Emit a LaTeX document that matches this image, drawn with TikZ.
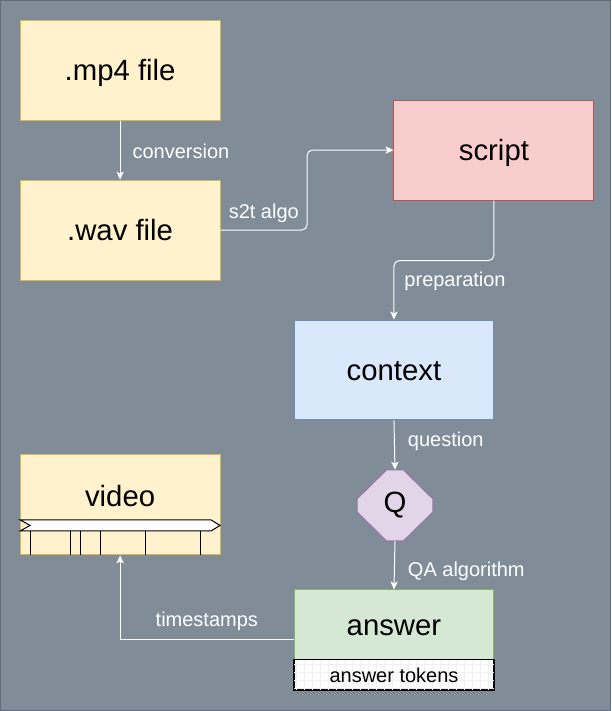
\documentclass[tikz,border=0pt]{standalone}
\usepackage{fontspec}
\setmainfont{Liberation Sans}
\usetikzlibrary{arrows.meta,calc}
\definecolor{bg}{HTML}{808D99}
\definecolor{bgline}{HTML}{5F6D7B}
\definecolor{yfill}{HTML}{FFF2CC}\definecolor{ystroke}{HTML}{D6B656}
\definecolor{rfill}{HTML}{F8CECC}\definecolor{rstroke}{HTML}{B85450}
\definecolor{bfill}{HTML}{DAE8FC}\definecolor{bstroke}{HTML}{6C8EBF}
\definecolor{pfill}{HTML}{E1D5E7}\definecolor{pstroke}{HTML}{9673A6}
\definecolor{gfill}{HTML}{D5E8D4}\definecolor{gstroke}{HTML}{82B366}
\definecolor{gridc}{HTML}{F0F0F0}
\begin{document}
\begin{tikzpicture}[x=0.75pt,y=-0.75pt,
  box/.style={draw, line width=0.75pt, minimum width=150pt, minimum height=75pt, inner sep=0pt,
    font=\fontsize{22}{26}\selectfont, text=black, text height=16pt, text depth=0pt},
  yel/.style={box, fill=yfill, draw=ystroke},
  redbox/.style={box, fill=rfill, draw=rstroke},
  bluebox/.style={box, fill=bfill, draw=bstroke},
  greenbox/.style={box, fill=gfill, draw=gstroke},
  lbl/.style={text=white, font=\fontsize{15}{18}\selectfont, inner sep=0pt},
  conn/.style={draw=white, line width=0.75pt, -{Stealth[length=6pt,width=5.5pt,inset=1.5pt]}},
  tick/.style={draw=black, line width=0.75pt}
]
\fill[bg] (0,0) rectangle (611,711);
\draw[bgline, line width=1pt] (0.5,0.5) rectangle (610.5,710.5);
\useasboundingbox (0,0) rectangle (611,711);

\node[yel] (mp4) at (120,70) {.mp4 file};
\node[yel] (wav) at (120,230) {.wav file};
\node[redbox] (script) at (494,150) {script};
\node[bluebox] (context) at (394,370) {context};

% Q octagon
\begin{scope}[shift={(395,505.5)}]
\draw[fill=pfill, draw=pstroke, line width=0.75pt]
  (-8.5,-35.5) -- (8.5,-35.5) -- (38,-6.5) -- (38,6.5) -- (8.5,35.5) -- (-8.5,35.5) -- (-38,6.5) -- (-38,-6.5) -- cycle;
\end{scope}
\node[inner sep=0pt, minimum width=57pt, minimum height=53.25pt, font=\fontsize{22}{26}\selectfont] (Q) at (395,505.5) {Q};

\node[greenbox, minimum height=52.5pt] (answer) at (394,625) {answer};
\node[draw=black, fill=white, line width=0.75pt, minimum width=150pt, minimum height=22.5pt, inner sep=0pt] (tok) at (394,675) {};
\begin{scope}
\clip (294,660) rectangle (494,690);
\draw[gridc, line width=0.25pt, step=6pt] (290,655) grid (500,695);
\end{scope}
\draw[black, line width=0.75pt] (tok.south west) rectangle (tok.north east);
\node[lbl, text=black] (toktext) at (tok.center) {answer tokens};

% video
\node[yel] (video) at (120,505) {};
\node[font=\fontsize{22}{26}\selectfont, inner sep=0pt] (vtext) at (120,496) {video};
\draw[fill=white, draw=black, line width=0.75pt]
  (20,520) -- (211,520) -- (220,525.5) -- (211,531) -- (20,531) -- (30,525.5) -- cycle;
\foreach \tx in {30,70,80,100,145,200} { \draw[tick] (\tx,531) -- (\tx,555); }

% connectors
\draw[conn] (mp4) -- (wav) node[lbl, pos=0.5, anchor=west, xshift=9pt, yshift=-0.75pt] (lconv) {conversion};
\draw[conn, rounded corners=4pt] (wav.east) -| ($(wav.east)!0.5!(script.west)$)
  node[lbl, pos=0.25, yshift=12.75pt] (ls2t) {s2t algo} |- (script.west);
\draw[conn, rounded corners=4pt] (script.south) -- ++(0,60) -| (context.north)
  node[lbl, pos=0.75, anchor=west, xshift=7.5pt, yshift=6.75pt] (lprep) {preparation};
\draw[conn] (context.south) -- (Q.north) node[lbl, pos=0.5, anchor=west, xshift=9.75pt, yshift=3pt] (lq) {question};
\draw[conn] (Q.south) -- (answer.north) node[lbl, pos=0.5, anchor=west, xshift=9.75pt, yshift=-4.5pt] (lqa) {QA algorithm};
\coordinate (ansgrp) at ($(answer.north west)!0.5!(tok.south west)$);
\draw[conn] (ansgrp) -| (video.south) node[lbl, pos=0.25, yshift=14.25pt] (lts) {timestamps};
\end{tikzpicture}
\end{document}
